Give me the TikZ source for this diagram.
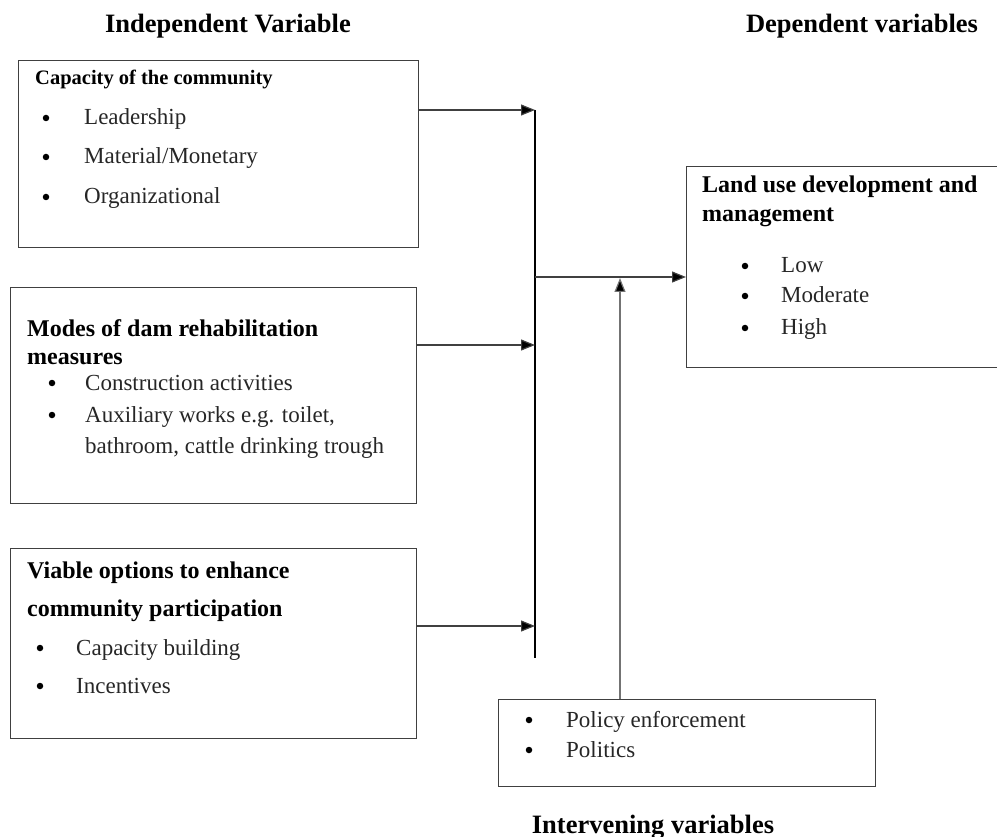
\documentclass[tikz,border=0pt]{standalone}
\usepackage{fontspec}
\setmainfont{Liberation Serif}
\usetikzlibrary{arrows.meta}

\tikzset{
  box/.style={draw=black!75, line width=1.2pt, anchor=north west, inner sep=0},
  title/.style={font=\fontsize{26.5}{30}\selectfont\bfseries, anchor=base, inner sep=0},
  head/.style={font=\fontsize{24}{28}\selectfont\bfseries, anchor=base west, inner sep=0},
  item/.style={font=\fontsize{23}{27}\selectfont, text=black!85, anchor=base west, inner sep=0},
  bul/.style={circle, fill=black, inner sep=0, minimum size=6.5pt, yshift=7pt},
  arr/.style={draw=black!75, line width=1.2pt, -{Triangle[length=14pt,width=11pt,fill=black]}},
}

\begin{document}
\begin{tikzpicture}[x=1pt,y=-1pt]
\useasboundingbox (0,0) rectangle (997,837);

% Titulos
\node [title] (tind) at (228,33) {Independent Variable};
\node [title] (tdep) at (862,33) {Dependent variables};
\node [title] (tint) at (653,833) {Intervening variables};

% Capacidad de la comunidad
\node [box, minimum width=400pt, minimum height=187pt] (capbox) at (18,60) {};
\node [head, font=\fontsize{20.5}{24}\selectfont\bfseries] (caph) at (35,85) {Capacity of the community};
\node [bul] at (46,125) {};
\node [item] (cap1) at (84,125) {Leadership};
\node [bul] at (46,164) {};
\node [item] (cap2) at (84,164) {Material/Monetary};
\node [bul] at (46,204) {};
\node [item] (cap3) at (84,204) {Organizational};

% Modos de rehabilitacion
\node [box, minimum width=406pt, minimum height=216pt] (modbox) at (10,287) {};
\node [head] (modh1) at (27,337) {Modes of dam rehabilitation};
\node [head] (modh2) at (27,365) {measures};
\node [bul] at (52,390) {};
\node [item] (mod1) at (85,390) {Construction activities};
\node [bul] at (52,422) {};
\node [item] (mod2) at (85,422) {Auxiliary works e.g. toilet,};
\node [item] (mod3) at (85,453) {bathroom, cattle drinking trough};

% Opciones viables
\node [box, minimum width=406pt, minimum height=190pt] (optbox) at (10,548) {};
\node [head] (opth1) at (27,578) {Viable options to enhance};
\node [head] (opth2) at (27,616) {community participation};
\node [bul] at (40,655) {};
\node [item] (opt1) at (76,655) {Capacity building};
\node [bul] at (40,693) {};
\node [item] (opt2) at (76,693) {Incentives};

% Uso del suelo
\node [box, minimum width=340pt, minimum height=201pt] (landbox) at (686,166) {};
\node [head] (landh1) at (702,193) {Land use development and};
\node [head] (landh2) at (702,222) {management};
\node [bul] at (745,273) {};
\node [item] (land1) at (781,273) {Low};
\node [bul] at (745,303) {};
\node [item] (land2) at (781,303) {Moderate};
\node [bul] at (745,335) {};
\node [item] (land3) at (781,335) {High};

% Variables intervinientes
\node [box, minimum width=377pt, minimum height=87pt] (polbox) at (498,699) {};
\node [bul] at (529,727) {};
\node [item] (pol1) at (566,727) {Policy enforcement};
\node [bul] at (529,757) {};
\node [item] (pol2) at (566,757) {Politics};

% Conectores
\coordinate (j1) at (535,110);
\coordinate (j2) at (535,345);
\coordinate (j3) at (535,626);
\coordinate (vbot) at (535,658);
\coordinate (hub) at (535,277);
\coordinate (meet) at (620,278);

\draw [line width=2.2pt, black] (j1) -- (vbot);
\draw [arr] (capbox.east |- j1) -- (j1);
\draw [arr] (modbox.east |- j2) -- (j2);
\draw [arr] (optbox.east |- j3) -- (j3);
\draw [arr] (hub) -- (landbox.west |- hub);
\draw [arr, draw=black!55] (meet |- polbox.north) -- (meet);
\end{tikzpicture}
\end{document}
